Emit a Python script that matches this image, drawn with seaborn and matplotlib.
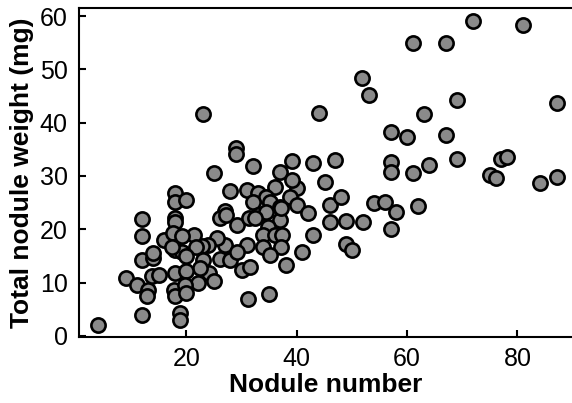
import matplotlib
matplotlib.use("Agg")
import matplotlib.pyplot as plt
import seaborn as sns
import pandas as pd

# Nodule counts and total nodule weight (mg) per plant
nodule_number = [
    # sparse upper / right part
    72.0, 81.1, 61.1, 67.0, 51.9, 53.1, 69.0, 87.1, 23.0, 44.1, 63.1,
    57.0, 60.0, 67.0, 29.0, 29.0, 25.0, 32.0, 36.9, 39.2, 43.0, 47.0,
    57.0, 57.0, 61.0, 64.0, 69.0, 77.0, 78.1, 75.0, 76.2, 84.1, 87.1,
    # middle-right band
    45.1, 40.1, 39.1, 38.7, 40.0, 42.1, 46.0, 48.0, 46.0, 49.0, 52.0,
    54.0, 56.0, 58.0, 62.0, 57.0, 43.0, 49.0, 50.0, 41.0, 38.0,
    # central cluster
    36.0, 27.9, 30.9, 33.0, 34.5, 32.1, 35.1, 36.9, 27.0, 26.1, 29.1,
    31.3, 33.0, 34.5, 36.9, 34.8, 33.9, 36.0, 37.4, 37.2, 33.9, 35.1,
    30.9, 27.0, 25.5, 23.9, 22.8, 21.3, 26.1, 30.0, 31.5, 24.1, 31.1,
    34.9, 23.0, 25.0, 22.0, 22.4, 27.9, 29.1, 21.8, 32.4, 37.1, 27.2,
    # left cluster
    4.0, 12.0, 18.8, 18.8, 9.0, 11.0, 13.1, 12.9, 12.0, 14.0, 14.0,
    12.0, 12.0, 13.7, 15.0, 16.0, 17.9, 17.9, 19.9, 17.9, 17.9, 17.6,
    19.1, 17.9, 19.1, 20.0, 17.9, 19.9, 17.8, 17.9, 19.8, 19.9, 17.3,
]
nodule_weight = [
    59.1, 58.4, 54.9, 55.0, 48.4, 45.1, 44.3, 43.6, 41.7, 41.8, 41.6,
    38.3, 37.3, 37.6, 35.2, 34.1, 30.6, 31.8, 30.7, 32.8, 32.4, 33.0,
    32.6, 30.8, 30.6, 32.1, 33.2, 33.1, 33.6, 30.1, 29.6, 28.7, 29.8,
    28.8, 27.7, 29.3, 26.1, 24.6, 23.1, 24.6, 26.1, 21.3, 21.6, 21.3,
    24.9, 25.2, 23.3, 24.3, 20.0, 18.9, 17.3, 16.1, 15.7, 13.3,
    27.9, 27.1, 27.3, 26.75, 26.1, 25.2, 25.2, 24.1, 23.5, 22.1, 20.8,
    22.1, 22.7, 23.3, 21.75, 20.5, 18.9, 18.9, 19.0, 16.75, 16.75, 15.2,
    17.1, 17.1, 18.3, 17.1, 16.8, 19.0, 14.4, 12.4, 13.0, 11.8, 6.9,
    7.9, 14.25, 10.2, 9.9, 12.7, 14.25, 15.8, 16.75, 22.1, 23.9, 22.6,
    2.1, 4.0, 4.25, 3.0, 10.8, 9.6, 8.6, 7.4, 14.3, 14.6, 15.6,
    18.75, 21.9, 11.25, 11.4, 17.9, 26.75, 25.2, 25.4, 22.1, 21.3, 19.3,
    18.75, 16.1, 15.8, 15.0, 11.75, 12.1, 8.6, 7.4, 9.6, 8.0, 16.6,
]

x_ticks = [20, 40, 60, 80]
y_ticks = [0, 10, 20, 30, 40, 50, 60]

df = pd.DataFrame({"Nodule number": nodule_number,
                   "Total nodule weight (mg)": nodule_weight})

sns.set_style("ticks")
plt.rcParams["font.family"] = ["Liberation Sans", "DejaVu Sans"]
plt.rcParams["text.color"] = "black"
plt.rcParams["axes.labelcolor"] = "black"
plt.rcParams["xtick.color"] = "black"
plt.rcParams["ytick.color"] = "black"

fig = plt.figure(figsize=(5.72, 4.03), dpi=100)
ax = fig.add_axes([0.138, 0.164, 0.862, 0.816])

sns.scatterplot(data=df, x="Nodule number", y="Total nodule weight (mg)",
                ax=ax, s=105, color="#8a8a8a", edgecolor="black",
                linewidth=1.9, zorder=3, clip_on=False)

ax.set_xlim(0.5, 89.9)
ax.set_ylim(-0.2, 61.5)
ax.set_xticks(x_ticks)
ax.set_yticks(y_ticks)

for side in ["left", "bottom", "top"]:
    ax.spines[side].set_linewidth(1.5)
    ax.spines[side].set_color("black")
ax.spines["right"].set_visible(False)

ax.tick_params(direction="in", length=5, width=1.5, colors="black",
               labelsize=18, pad=7)
ax.tick_params(axis="y", pad=8)

ax.set_xlabel("Nodule number", fontsize=19, fontweight="bold", labelpad=2)
ax.set_ylabel("Total nodule weight (mg)", fontsize=19, fontweight="bold",
              labelpad=4)

fig.savefig("out.png", dpi=100)
